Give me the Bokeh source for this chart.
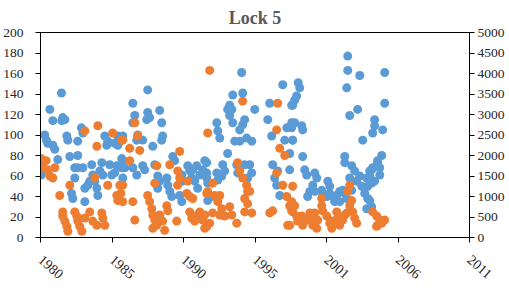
from bokeh.plotting import figure
from bokeh.models import Range1d, LinearAxis, FixedTicker, ColumnDataSource
from bokeh.embed import file_html
from bokeh.resources import INLINE

TITLE = "Lock 5"
x_ticks = [1980.8, 1985.85, 1990.9, 1995.95, 2001.0, 2006.05, 2011.1]
x_tick_labels = ["1980", "1985", "1990", "1995", "2001", "2006", "2011"]
left_ticks = [0, 20, 40, 60, 80, 100, 120, 140, 160, 180, 200]
right_ticks = [0, 500, 1000, 1500, 2000, 2500, 3000, 3500, 4000, 4500, 5000]

# Series 1 (blue, left axis)
blue_year = [
    1982.28, 1981.46, 1981.67, 1982.37, 1982.52, 1982.30, 1981.10, 1981.22, 1981.31, 1981.67,
    1981.81, 1980.85, 1980.90, 1980.85, 1982.02, 1982.73, 1982.66, 1982.87, 1983.43, 1983.43,
    1983.69, 1983.79, 1983.22, 1983.43, 1983.79, 1983.22, 1982.99, 1983.08, 1983.93, 1984.14,
    1984.28, 1983.93, 1984.49, 1984.63, 1984.78, 1984.85, 1984.42, 1985.13, 1984.99, 1985.20,
    1985.34, 1985.48, 1985.69, 1985.83, 1986.04, 1986.19, 1985.55, 1986.04, 1986.26, 1986.26,
    1986.54, 1986.54, 1986.61,
    1988.37, 1987.32, 1987.46, 1987.32, 1988.37, 1988.51, 1988.30, 1989.22, 1989.36, 1986.61,
    1987.67, 1988.02, 1987.60, 1988.73, 1989.36, 1989.43, 1986.61, 1986.75, 1987.32, 1987.60,
    1988.02, 1988.16, 1988.87, 1989.08, 1989.22, 1989.72, 1989.79, 1989.93, 1990.07, 1989.08,
    1990.14, 1990.28, 1990.78, 1990.85, 1990.78, 1990.63, 1991.20, 1991.34, 1991.48, 1991.55,
    1991.83, 1992.05, 1992.26, 1992.54, 1992.40, 1991.69, 1991.90,
    1995.01, 1994.38, 1995.08, 1994.16, 1994.31, 1994.02, 1994.16, 1994.38, 1995.22, 1995.08,
    1994.87, 1995.93, 1993.25, 1993.32, 1993.46, 1994.52, 1994.87, 1995.36, 1995.72, 1994.02,
    1993.67, 1993.81, 1993.60, 1993.25, 1993.32, 1992.54, 1992.54, 1992.61, 1994.66, 1994.73,
    1995.22, 1995.58, 1995.72, 1995.43, 1992.89, 1992.61, 1997.91, 1996.99, 1998.54, 1996.85,
    1998.19, 1998.54, 1997.13, 1998.05, 1998.61, 1997.20, 1997.55, 1997.34, 1997.48, 1997.70,
    1999.00, 1999.11, 1998.75, 1998.89, 1998.61, 1998.75, 1998.54, 1999.25, 1999.32, 1998.61,
    1998.40, 1999.32, 1998.40, 1999.46, 1999.60, 2000.17, 2000.31, 2000.03, 1999.82, 2000.17,
    1999.67, 2000.66, 2000.73, 2001.09, 2001.23, 2001.23, 2001.02, 2001.44, 2001.58, 2001.72,
    2001.93, 2002.14, 2002.50, 2002.50, 2003.35, 2002.43, 2003.20, 2002.64, 2004.40, 2004.26,
    2003.56, 2002.29, 2002.29, 2002.78, 2002.99, 2002.64, 2003.13, 2003.35, 2003.49, 2002.78,
    2002.29, 2002.43, 2001.93, 2003.70, 2003.91, 2004.05, 2004.19, 2004.54, 2004.40, 2004.61,
    2003.84, 2003.91, 2003.84, 2004.19,
    2005.11, 2005.11, 2004.97, 2004.40, 2004.90, 2004.61, 2004.76, 2004.26, 2004.05, 2004.76,
    2004.19, 2004.05,
]
blue_value = [
    141, 125, 114, 117, 115, 114, 100, 95, 92, 90,
    86, 73, 75, 61, 76, 95, 99, 79, 80, 94,
    107, 102, 68, 68, 68, 58, 43, 38, 48, 51,
    55, 35, 61, 55, 48, 41, 71, 73, 65, 61,
    99, 90, 71, 61, 63, 70, 94, 92, 90, 99,
    77, 68, 58,
    144, 131, 119, 112, 122, 117, 115, 124, 112, 99,
    100, 95, 95, 89, 95, 99, 75, 68, 68, 61,
    70, 66, 71, 60, 55, 58, 51, 45, 40, 48,
    79, 75, 61, 55, 35, 41, 70, 65, 58, 66,
    70, 61, 66, 58, 75, 55, 48,
    161, 139, 141, 129, 125, 125, 119, 112, 115, 110,
    105, 125, 112, 104, 97, 94, 94, 97, 94, 82,
    71, 65, 60, 63, 56, 73, 63, 53, 71, 63,
    71, 71, 63, 58, 40, 36, 149, 131, 129, 115,
    107, 112, 99, 95, 95, 71, 65, 58, 51, 41,
    151, 146, 134, 138, 129, 112, 107, 109, 105, 95,
    82, 79, 66, 66, 61, 63, 58, 51, 45, 45,
    40, 46, 41, 55, 50, 43, 40, 40, 35, 41,
    45, 46, 177, 163, 158, 146, 125, 119, 115, 102,
    95, 79, 73, 70, 65, 58, 55, 60, 50, 46,
    43, 38, 35, 43, 38, 60, 66, 70, 55, 73,
    58, 50, 28, 30,
    161, 131, 105, 109, 80, 75, 68, 68, 65, 61,
    53, 36,
]

# Series 2 (orange, right axis)
orange_year = [
    1980.85, 1981.00, 1981.31, 1981.46, 1981.67, 1981.81, 1981.20, 1982.16, 1982.87, 1983.93,
    1984.85, 1984.78, 1985.90, 1986.54, 1984.63, 1985.55, 1986.40, 1986.19, 1986.26, 1982.37,
    1982.37, 1982.52, 1982.66, 1982.73, 1983.22, 1983.36, 1983.43, 1983.57, 1983.72, 1983.93,
    1984.28, 1984.49, 1984.78, 1985.13, 1985.20, 1985.34,
    1987.46, 1986.61, 1987.67, 1987.81, 1987.10, 1987.10, 1986.61, 1986.47, 1986.61, 1987.32,
    1987.46, 1989.01, 1988.87, 1989.93, 1990.63, 1990.49, 1990.63, 1990.49, 1991.20, 1991.13,
    1991.34, 1991.55, 1988.37, 1988.51, 1988.66, 1988.73, 1988.87, 1989.01, 1988.73, 1989.22,
    1989.43, 1989.57, 1989.72, 1989.79, 1990.42, 1991.34, 1991.48, 1991.69, 1991.90, 1992.05,
    1992.26, 1992.40, 1992.54, 1992.61, 1992.54,
    1992.75, 1995.08, 1997.55, 1997.48, 1997.70, 1998.05, 1997.48, 1994.73, 1994.87, 1995.08,
    1995.36, 1995.43, 1995.22, 1995.43, 1995.72, 1995.22, 1995.58, 1992.96, 1992.61, 1993.10,
    1993.46, 1993.32, 1993.60, 1993.46, 1993.81, 1994.16, 1994.31, 1994.66, 1992.40, 1992.54,
    1992.96, 1992.75, 1996.99, 1997.20, 1997.91, 1998.19, 1998.40, 1998.54, 1998.26, 1998.61,
    1998.54, 1998.75, 1998.61, 1998.89, 1998.96, 1998.40, 1999.25, 1999.32, 1999.60, 1999.82,
    1999.96, 2000.03, 2000.31, 2000.38, 2000.17, 2000.66, 2000.66, 2000.73, 2001.02, 2001.23,
    2001.37, 2001.44, 2001.72, 2001.79, 2001.93, 2002.14, 2002.29, 2002.64, 2002.50, 2002.78,
    2002.64, 2002.85, 2002.99, 2003.13, 2002.43, 2004.26, 2004.54, 2004.61, 2005.11, 2004.76,
    2004.54, 2004.90,
]
orange_value = [
    1925, 1700, 1650, 1500, 1450, 1700, 1875, 1025, 1275, 2600,
    2725, 2225, 2550, 2375, 1450, 1275, 1275, 1025, 900, 625,
    525, 400, 275, 150, 625, 525, 400, 275, 150, 475,
    625, 400, 300, 600, 475, 300,
    2800, 2375, 2475, 2125, 2175, 1875, 1275, 1075, 875, 875,
    425, 1750, 1325, 1775, 2100, 1625, 1450, 1275, 1375, 1075,
    1000, 950, 1025, 875, 700, 550, 425, 300, 225, 550,
    400, 175, 775, 650, 400, 625, 475, 400, 550, 625,
    425, 225, 275, 2550, 1075,
    4075, 3325, 3275, 2625, 2175, 2000, 1575, 1825, 1625, 1450,
    1275, 1125, 950, 825, 600, 625, 1125, 1325, 1125, 1025,
    1025, 875, 700, 550, 525, 750, 550, 350, 550, 275,
    600, 350, 600, 650, 1275, 1000, 775, 650, 300, 1250,
    875, 775, 625, 525, 400, 300, 525, 300, 425, 600,
    475, 300, 225, 425, 600, 950, 775, 650, 525, 350,
    225, 400, 625, 475, 300, 425, 550, 1275, 1125, 900,
    775, 625, 475, 350, 600, 625, 525, 300, 425, 425,
    275, 350,
]

FONT = "Liberation Serif"

p = figure(
    frame_width=429, frame_height=205,
    x_range=Range1d(x_ticks[0], x_ticks[-1]),
    y_range=Range1d(left_ticks[0], left_ticks[-1]),
    output_backend="svg", toolbar_location=None,
    title=TITLE,
    min_border_left=37, min_border_right=0, min_border_top=0, min_border_bottom=0,
)
p.extra_y_ranges = {"right": Range1d(right_ticks[0], right_ticks[-1])}

p.title.text = TITLE
p.title.align = "center"
p.title.text_font = FONT
p.title.text_font_size = "18px"
p.title.text_font_style = "bold"
p.title.text_color = "#595959"

p.xgrid.visible = False
p.ygrid.visible = False
p.outline_line_color = "black"
p.outline_line_width = 1
p.background_fill_color = "white"
p.border_fill_color = "white"

right_axis = LinearAxis(y_range_name="right")
p.add_layout(right_axis, "right")

for ax in [p.xaxis[0], p.yaxis[0], right_axis]:
    ax.axis_line_color = "black"
    ax.major_tick_line_color = "black"
    ax.major_tick_out = 5
    ax.major_tick_in = 0
    ax.minor_tick_line_color = None
    ax.major_label_text_font = FONT
    ax.major_label_text_font_size = "13.5px"
    ax.major_label_text_color = "#262626"

p.yaxis[0].major_label_standoff = 12
right_axis.major_label_standoff = 3
p.xaxis[0].major_label_standoff = 15

p.xaxis[0].ticker = FixedTicker(ticks=x_ticks)
p.xaxis[0].major_label_overrides = dict(zip(x_ticks, x_tick_labels))
p.xaxis[0].major_label_orientation = -0.72
p.xaxis[0].major_label_text_font_size = "14px"
p.yaxis[0].ticker = FixedTicker(ticks=left_ticks)
right_axis.ticker = FixedTicker(ticks=right_ticks)

blue_src = ColumnDataSource(dict(x=blue_year, y=blue_value))
orange_src = ColumnDataSource(dict(x=orange_year, y=orange_value))

p.scatter("x", "y", source=blue_src, size=9, fill_color="#5B9BD5", line_color=None)
p.scatter("x", "y", source=orange_src, size=9, fill_color="#ED7D31", line_color=None,
          y_range_name="right")

open("out.html", "w").write(file_html(p, INLINE))
